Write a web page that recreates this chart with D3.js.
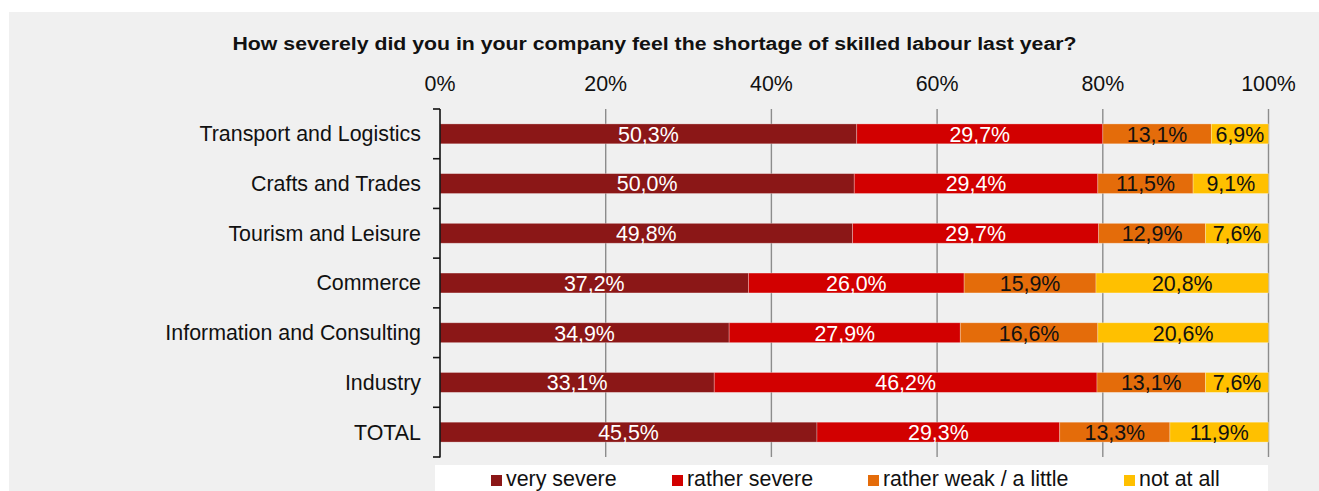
<!DOCTYPE html>
<html>
<head>
<meta charset="utf-8">
<script src="https://cdn.jsdelivr.net/npm/d3@7"></script>
<style>
  html, body { margin: 0; padding: 0; background: #ffffff; }
  svg { display: block; font-family: "Liberation Sans", Arial, sans-serif; }
</style>
</head>
<body>
<svg id="chart" width="1319" height="491"></svg>
<script>
// Survey question and answer categories
const question = "How severely did you in your company feel the shortage of skilled labour last year?";
const sectors = [
  "Transport and Logistics",
  "Crafts and Trades",
  "Tourism and Leisure",
  "Commerce",
  "Information and Consulting",
  "Industry",
  "TOTAL"
];
const seriesNames = ["very severe", "rather severe", "rather weak / a little", "not at all"];
const seriesColors = ["#8b1717", "#d20000", "#e46c0a", "#ffc000"];
const labelColors = ["#ffffff", "#ffffff", "#111111", "#111111"];

// Shares per sector (percent), one array per answer
const verySevere   = [50.3, 50.0, 49.8, 37.2, 34.9, 33.1, 45.5];
const ratherSevere = [29.7, 29.4, 29.7, 26.0, 27.9, 46.2, 29.3];
const ratherWeak   = [13.1, 11.5, 12.9, 15.9, 16.6, 13.1, 13.3];
const notAtAll     = [ 6.9,  9.1,  7.6, 20.8, 20.6,  7.6, 11.9];
const axisTicks = [0, 20, 40, 60, 80, 100];

const seriesValues = [verySevere, ratherSevere, ratherWeak, notAtAll];
const FONT = 21.4;

// Build rows normalised to 100% (stacked percentage bars)
const rows = sectors.map((s, i) => {
  const row = { sector: s };
  const total = d3.sum(seriesValues, v => v[i]);
  seriesNames.forEach((n, k) => {
    row[n] = seriesValues[k][i];
    row[n + "_n"] = seriesValues[k][i] / total * 100;
  });
  return row;
});

const svg = d3.select("#chart");

// Grey panel
svg.append("rect")
  .attr("x", 9).attr("y", 12)
  .attr("width", 1310).attr("height", 479)
  .attr("fill", "#f0f0f0");

svg.append("text")
  .attr("x", 232.5).attr("y", 49.5)
  .attr("font-weight", "bold")
  .attr("font-size", 18)
  .attr("textLength", 844)
  .attr("lengthAdjust", "spacingAndGlyphs")
  .attr("fill", "#111")
  .text(question);

const x = d3.scaleLinear().domain([0, 100]).range([440, 1268.5]);
const y = d3.scaleBand().domain(sectors).range([109, 457]).paddingInner(0.6).paddingOuter(0.3);

// Top axis labels
svg.append("g")
  .selectAll("text")
  .data(axisTicks)
  .join("text")
  .attr("x", d => x(d))
  .attr("y", 91)
  .attr("text-anchor", "middle")
  .attr("font-size", FONT)
  .attr("fill", "#111")
  .text(d => d + "%");

// Vertical gridlines
svg.append("g")
  .selectAll("line")
  .data(axisTicks.filter(d => d > 0))
  .join("line")
  .attr("x1", d => x(d)).attr("x2", d => x(d))
  .attr("y1", 109).attr("y2", 457)
  .attr("stroke", "#8c8c8c")
  .attr("stroke-width", 1.4);

// Stacked bars
const stack = d3.stack().keys(seriesNames.map(n => n + "_n"));
const layers = stack(rows);

const layerG = svg.append("g")
  .selectAll("g")
  .data(layers)
  .join("g")
  .attr("fill", (d, i) => seriesColors[i]);

layerG.selectAll("rect")
  .data(d => d)
  .join("rect")
  .attr("x", d => x(d[0]))
  .attr("y", d => y(d.data.sector))
  .attr("width", d => x(d[1]) - x(d[0]))
  .attr("height", y.bandwidth())
  .attr("stroke", "rgba(255,255,255,0.35)")
  .attr("stroke-width", 0.8);

// Value labels inside segments
layers.forEach((layer, k) => {
  svg.append("g")
    .selectAll("text")
    .data(layer)
    .join("text")
    .attr("x", d => (x(d[0]) + x(d[1])) / 2)
    .attr("y", d => y(d.data.sector) + y.bandwidth() / 2)
    .attr("dy", "0.37em")
    .attr("text-anchor", "middle")
    .attr("font-size", FONT)
    .attr("fill", labelColors[k])
    .text(d => d.data[seriesNames[k]].toFixed(1).replace(".", ",") + "%");
});

// Left axis with ticks between categories
const axisG = svg.append("g").attr("stroke", "#111").attr("stroke-width", 1.6);
axisG.append("line")
  .attr("x1", 440).attr("x2", 440)
  .attr("y1", 109).attr("y2", 457.5);
const bounds = sectors.map(s => y(s) - y.step() * y.paddingInner() / 2);
bounds.push(457);
bounds[0] = 109;
axisG.selectAll("line.tick")
  .data(bounds)
  .join("line")
  .attr("class", "tick")
  .attr("x1", 433).attr("x2", 440)
  .attr("y1", d => d).attr("y2", d => d);

// Category labels
svg.append("g")
  .selectAll("text")
  .data(sectors)
  .join("text")
  .attr("x", 421)
  .attr("y", d => y(d) + y.bandwidth() / 2)
  .attr("dy", "0.35em")
  .attr("text-anchor", "end")
  .attr("font-size", FONT)
  .attr("fill", "#111")
  .text(d => d);

// Legend
svg.append("rect")
  .attr("x", 435).attr("y", 465)
  .attr("width", 833).attr("height", 30)
  .attr("fill", "#ffffff");

const legendX = [491, 672, 868, 1124];
const legend = svg.append("g")
  .selectAll("g")
  .data(seriesNames)
  .join("g")
  .attr("transform", (d, i) => `translate(${legendX[i]},0)`);
legend.append("rect")
  .attr("x", 0).attr("y", 475)
  .attr("width", 11).attr("height", 11)
  .attr("fill", (d, i) => seriesColors[i]);
legend.append("text")
  .attr("x", 15).attr("y", 486)
  .attr("font-size", FONT)
  .attr("fill", "#111")
  .text(d => d);
</script>
</body>
</html>
